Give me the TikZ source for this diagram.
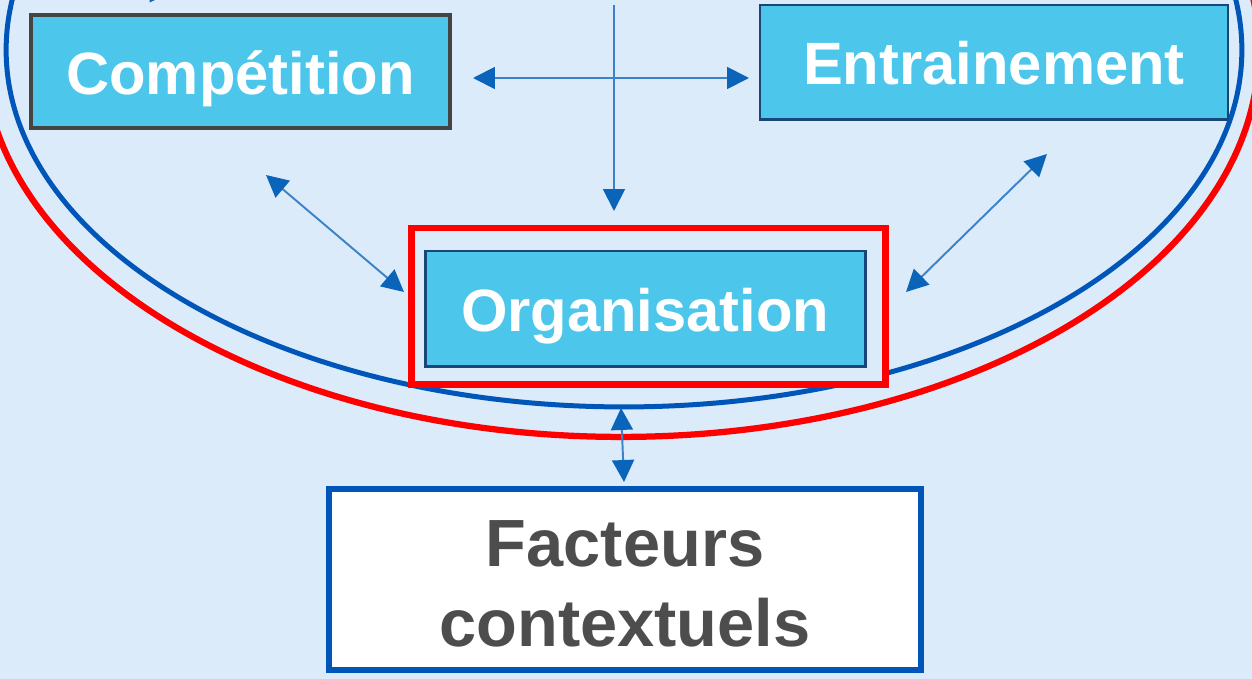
\documentclass[tikz,border=0pt]{standalone}
\usepackage{fontspec}
\setmainfont{Liberation Sans}
\usetikzlibrary{arrows.meta}
\definecolor{bg}{RGB}{219,235,250}
\definecolor{boxfill}{RGB}{76,198,235}
\definecolor{ellblue}{RGB}{0,86,184}
\definecolor{ellred}{RGB}{255,0,0}
\definecolor{arrline}{RGB}{60,130,200}
\definecolor{arrhead}{RGB}{10,100,185}
\definecolor{navy}{RGB}{25,70,120}
\definecolor{dgray}{RGB}{68,68,68}
\definecolor{tgray}{RGB}{77,77,77}
\tikzset{
  lbl/.style={font=\fontsize{34}{40}\selectfont\bfseries, text=white, text height=25.8pt, text depth=0pt, inner sep=0pt},
  bluebox/.style={lbl, rectangle, fill=boxfill},
  mytip/.tip={Triangle[length=12.5pt,width=12.5pt,color=arrhead]},
  arr/.style={draw=arrline, line width=1.1pt, arrows={-mytip}},
  darr/.style={draw=arrline, line width=1.1pt, arrows={mytip-mytip}}
}
\begin{document}
\begin{tikzpicture}[x=0.02cm,y=-0.02cm]
\useasboundingbox (0,0) rectangle (1252,679);
\clip (0,0) rectangle (1252,679);
\fill[bg] (0,0) rectangle (1252,679);

% ellipses
\draw[ellred, line width=0.125cm] (621,50) ellipse [x radius=12.76cm, y radius=7.74cm];
\draw[ellblue, line width=0.1cm] (624,50) ellipse [x radius=12.36cm, y radius=7.14cm];

% boxes
\node[bluebox, draw=dgray, line width=0.08cm, minimum width=419*0.02cm, minimum height=113.5*0.02cm] (comp) at (240.5,71.75) {Compétition};
\node[bluebox, draw=navy, line width=0.05cm, minimum width=468*0.02cm, minimum height=114.5*0.02cm] (entr) at (994,62.25) {Entrainement};
\node[rectangle, draw=ellred, fill=bg, line width=0.14cm, minimum width=474*0.02cm, minimum height=156*0.02cm] (orgr) at (648,306) {};
\node[bluebox, draw=navy, line width=0.06cm, minimum width=439.5*0.02cm, minimum height=115.5*0.02cm] (orga) at (645.25,308.75) {Organisation};
\node[rectangle, draw=ellblue, fill=white, line width=0.12cm, minimum width=592*0.02cm, minimum height=181*0.02cm] (fct) at (625,579.5) {};
\node[font=\fontsize{38}{45.4}\selectfont\bfseries, text=tgray, align=center, inner sep=0pt] (fctt) at (fct.center) [yshift=-4.5*0.02cm] {Facteurs\\contextuels};

% connector end points
\coordinate (vtop) at (614,5);
\coordinate (vbot) at (614,211);
\coordinate (h1) at (473,78);
\coordinate (h2) at (749,78);
\coordinate (dl1) at (266,175);
\coordinate (dl2) at (404,292);
\coordinate (dr1) at (906,292);
\coordinate (dr2) at (1047,154);
\coordinate (v1) at (621,408);
\coordinate (v2) at (624,482);
\coordinate (tl1) at (60,-12);
\coordinate (tl2) at (172,-8);

% connectors
\draw[arr] (vtop) -- (vbot);
\draw[darr] (h1) -- (h2);
\draw[darr] (dl1) -- (dl2);
\draw[darr] (dr1) -- (dr2);
\draw[darr] (v1) -- (v2);
\draw[arr] (tl1) -- (tl2);
\end{tikzpicture}
\end{document}
